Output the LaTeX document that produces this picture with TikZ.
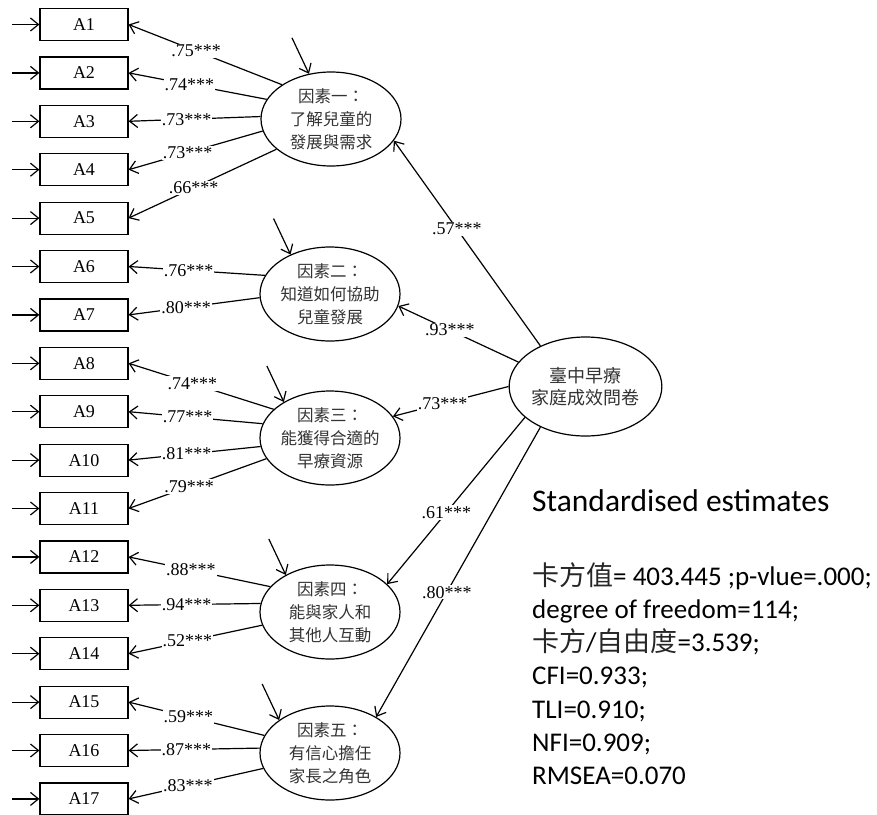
\documentclass[tikz,border=0pt]{standalone}
\usepackage{fontspec}
\setmainfont{Liberation Serif}
\newfontfamily\cjk{Noto Sans CJK TC}
\newfontfamily\calfont{Carlito}
\usetikzlibrary{arrows.meta,shapes.geometric}
\begin{document}
\begin{tikzpicture}[x=1pt,y=-1pt,
  arr/.style={-{Straight Barb[length=8pt,width=13pt]},line width=1.2pt},
  ind/.style={draw,line width=1.2pt,minimum width=88pt,minimum height=32pt,inner sep=0pt,font=\fontsize{18}{18}\selectfont},
  fac/.style={ellipse,draw,line width=1.2pt,minimum width=140pt,minimum height=94pt,inner sep=0pt,align=center,text=black!80,font=\cjk\fontsize{16.5}{23}\selectfont},
  lab/.style={fill=white,inner sep=1pt,font=\fontsize{18}{18}\selectfont},
  stat/.style={anchor=base west,inner sep=0pt,font=\calfont\fontsize{27}{33}\selectfont}]
\fill[white] (0,0) rectangle (877,814);
\path[use as bounding box] (0,0) rectangle (877,814);
% indicators
\foreach \i in {1,...,17}{
  \node[ind] (a\i) at (84,{24.5+48.4*(\i-1)}) {A\i};
  \coordinate (e\i) at (12,{24.5+48.4*(\i-1)});
  \draw[arr] (e\i) -- (a\i);
}
% factors
\node[fac] (f1) at (331,119) {因素一：\\了解兒童的\\發展與需求};
\node[fac] (f2) at (330,294) {因素二：\\知道如何協助\\兒童發展};
\node[fac] (f3) at (330,438) {因素三：\\能獲得合適的\\早療資源};
\node[fac] (f4) at (330,612) {因素四：\\能與家人和\\其他人互動};
\node[fac] (f5) at (330,753) {因素五：\\有信心擔任\\家長之角色};
\node[fac,minimum width=139pt,minimum height=99pt,font=\cjk\fontsize{18}{22}\selectfont] (m) at (585.5,386.5) {臺中早療\\家庭成效問卷};
% disturbances
\foreach \f/\an in {f1/116,f2/135,f3/142,f4/140,f5/147}{
  \path (\f.\an) ++(-17,-36) coordinate (d\f);
  \draw[arr] (d\f) -- (\f.\an);
}
% loadings
\foreach \f/\an/\b/\l in {f1/145/a1/.75,f1/163/a2/.74,f1/178/a3/.73,f1/190/a4/.73,f1/209/a5/.66,
  f2/164/a6/.76,f2/183/a7/.80,
  f3/153/a8/.74,f3/168/a9/.77,f3/187/a10/.81,f3/198/a11/.79,
  f4/157/a12/.88,f4/173/a13/.94,f4/191/a14/.52,
  f5/165/a15/.59,f5/176/a16/.87,f5/193/a17/.83}{
  \draw[arr] (\f.\an) -- node[lab,pos=0.56]{\l***} (\b.east);
}
% second order
\foreach \ma/\f/\fa/\l in {138/f1/341/.57,160/f2/350/.93,180/f3/19/.73,207/f4/26/.61,222/f5/38/.80}{
  \draw[arr] (m.\ma) -- node[lab,pos=0.57]{\l***} (\f.\fa);
}
% text block
\node[stat,font=\calfont\fontsize{31.5}{36}\selectfont] (t0) at (532,511) {Standardised estimates};
\node[stat] (s1) at (532,585) {{\cjk\color{black!85}卡方值}= 403.445 ;p-vlue=.000;};
\node[stat] (s2) at (532,618.3) {degree of freedom=114;};
\node[stat] (s3) at (532,651.6) {{\cjk\color{black!85}卡方}/{\cjk\color{black!85}自由度}=3.539;};
\node[stat] (s4) at (532,684.9) {CFI=0.933;};
\node[stat] (s5) at (532,718.2) {TLI=0.910;};
\node[stat] (s6) at (532,751.5) {NFI=0.909;};
\node[stat] (s7) at (532,784.8) {RMSEA=0.070};
\end{tikzpicture}
\end{document}
